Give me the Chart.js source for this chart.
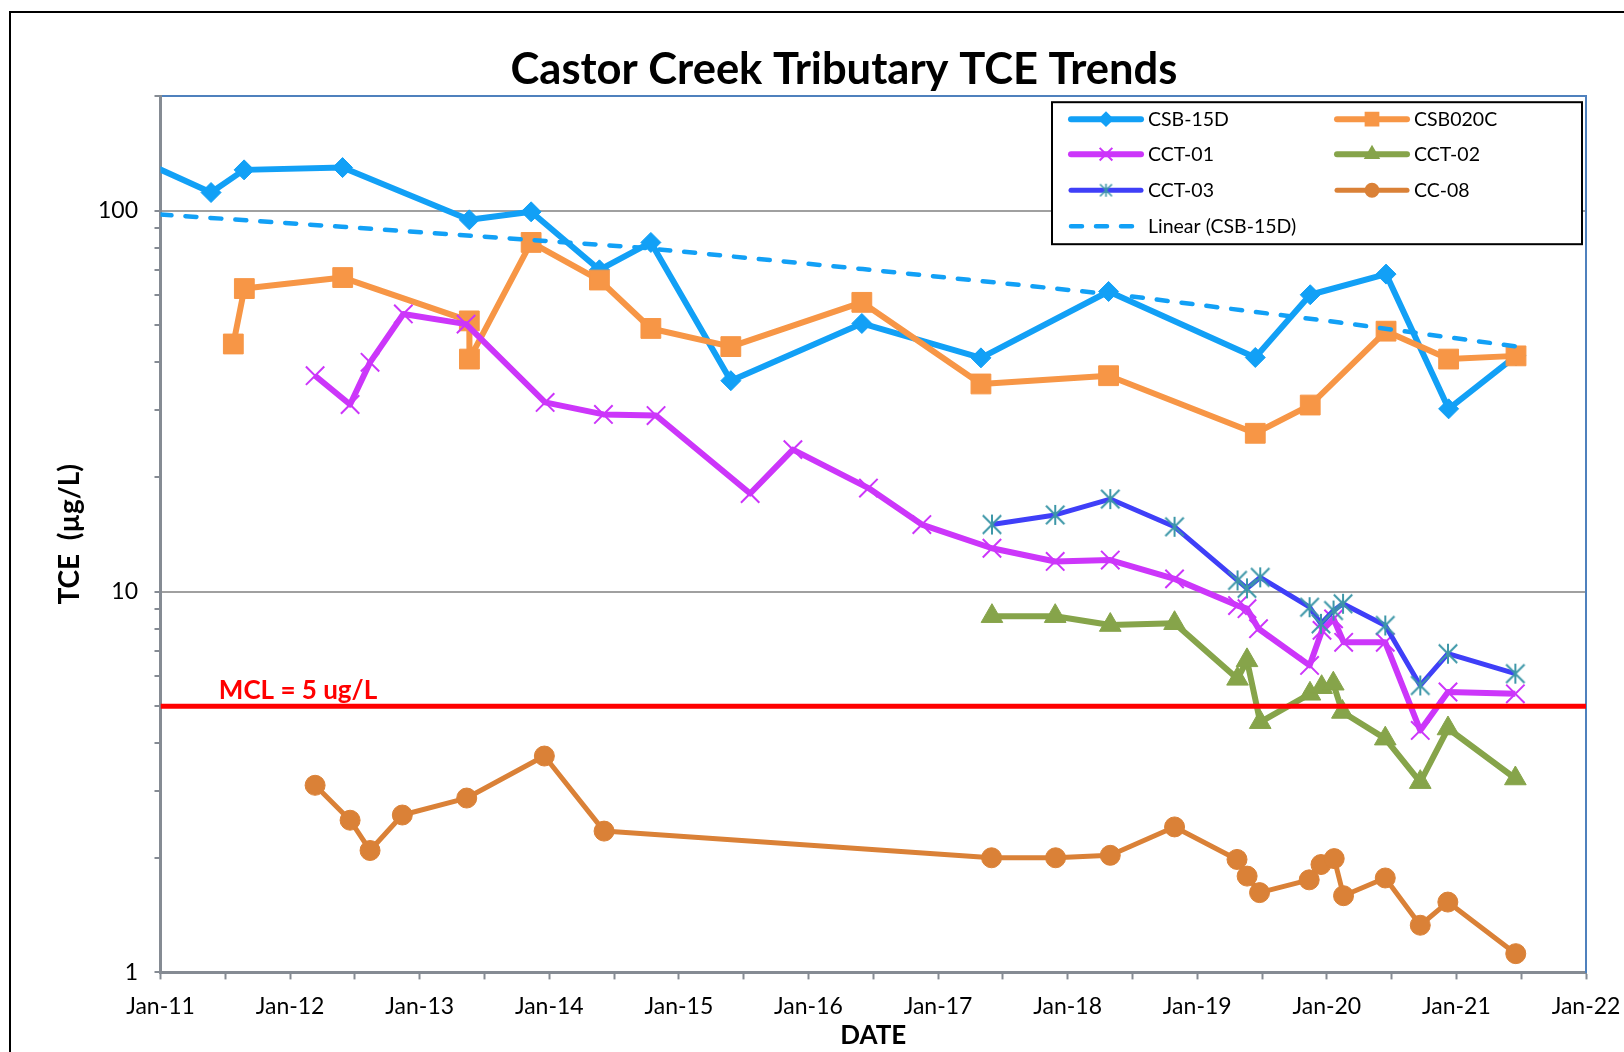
<!DOCTYPE html>
<html>
<head>
<meta charset="utf-8">
<title>Castor Creek Tributary TCE Trends</title>
<script src="https://cdn.jsdelivr.net/npm/chart.js@4.4.1/dist/chart.umd.min.js"></script>
<style>
  html, body { margin: 0; padding: 0; background: #fff; overflow: hidden; }
  #frame { position: absolute; left: 9px; top: 11px; width: 1666px; height: 1100px; border: 2px solid #000; }
</style>
</head>
<body>
<div id="frame"><canvas id="canvas" width="1666" height="1039"></canvas></div>
<script>
// sample dates are decimal years, values in ug/L
var csb15dDates = [2010.9, 2011.39, 2011.645, 2012.405, 2013.383, 2013.86, 2014.387, 2014.784, 2015.401, 2016.412, 2017.331, 2018.316, 2019.448, 2019.872, 2020.457, 2020.94, 2021.46];
var csb15dValues = [133, 111.7, 128.1, 129.9, 94.7, 99.4, 70.0, 82.6, 35.8, 50.6, 41.1, 61.4, 41.2, 60.2, 68.2, 30.2, 41.6];

var csb020cDates = [2011.562, 2011.647, 2012.406, 2013.383, 2013.384, 2013.86, 2014.387, 2014.784, 2015.401, 2016.412, 2017.331, 2018.316, 2019.448, 2019.872, 2020.457, 2020.94, 2021.46];
var csb020cValues = [44.7, 62.5, 66.8, 51.4, 40.8, 82.6, 65.8, 49.1, 44.0, 57.5, 35.1, 36.9, 26.05, 30.9, 48.3, 40.8, 41.6];

var cct01Dates = [2012.193, 2012.463, 2012.617, 2012.874, 2013.358, 2013.968, 2014.418, 2014.824, 2015.55, 2015.88, 2016.463, 2016.875, 2017.416, 2017.904, 2018.329, 2018.825, 2019.311, 2019.384, 2019.473, 2019.867, 2019.963, 2020.052, 2020.13, 2020.451, 2020.721, 2020.935, 2021.455];
var cct01Values = [36.9, 31.0, 40.0, 53.6, 50.4, 31.4, 29.2, 29.0, 18.1, 23.6, 18.7, 15.0, 13.0, 12.0, 12.1, 10.8, 9.19, 9.02, 7.99, 6.40, 7.91, 8.48, 7.36, 7.36, 4.32, 5.45, 5.39];

var cct02Dates = [2017.416, 2017.904, 2018.329, 2018.825, 2019.311, 2019.384, 2019.486, 2019.87, 2019.96, 2020.05, 2020.12, 2020.451, 2020.721, 2020.935, 2021.455];
var cct02Values = [8.62, 8.62, 8.17, 8.26, 5.90, 6.60, 4.54, 5.39, 5.61, 5.73, 4.83, 4.11, 3.16, 4.37, 3.23];

var cct03Dates = [2017.416, 2017.904, 2018.329, 2018.825, 2019.311, 2019.384, 2019.486, 2019.867, 2019.955, 2020.052, 2020.125, 2020.451, 2020.721, 2020.935, 2021.455];
var cct03Values = [15.0, 15.9, 17.5, 14.8, 10.7, 10.2, 10.9, 9.10, 8.23, 8.92, 9.29, 8.15, 5.67, 6.87, 6.09];

var cc08Dates = [2012.193, 2012.463, 2012.617, 2012.866, 2013.363, 2013.962, 2014.423, 2017.413, 2017.907, 2018.329, 2018.825, 2019.307, 2019.385, 2019.481, 2019.864, 2019.955, 2020.057, 2020.129, 2020.451, 2020.721, 2020.934, 2021.458];
var cc08Values = [3.10, 2.51, 2.09, 2.59, 2.87, 3.70, 2.35, 2.00, 2.00, 2.03, 2.41, 1.98, 1.79, 1.62, 1.75, 1.92, 1.99, 1.59, 1.77, 1.33, 1.53, 1.12];

// Linear (CSB-15D) trendline
var trendDates = [2011.0, 2012.4, 2014.7, 2016.42, 2018.46, 2020.1, 2021.47];
var trendValues = [97.8, 90.8, 80.1, 70.3, 59.8, 50.9, 44.0];

var mclValue = 5;
var mclLabel = 'MCL = 5 ug/L';
var mclLabelYear = 2011.45;

var xTickValues = [2011, 2011.5, 2012, 2012.5, 2013, 2013.5, 2014, 2014.5, 2015, 2015.5, 2016, 2016.5, 2017, 2017.5, 2018, 2018.5, 2019, 2019.5, 2020, 2020.5, 2021, 2021.5, 2022];
var xLabelYears = [2011, 2012, 2013, 2014, 2015, 2016, 2017, 2018, 2019, 2020, 2021, 2022];
var xTickLabels = ['Jan-11', 'Jan-12', 'Jan-13', 'Jan-14', 'Jan-15', 'Jan-16', 'Jan-17', 'Jan-18', 'Jan-19', 'Jan-20', 'Jan-21', 'Jan-22'];
var yTickValues = [1, 2, 3, 4, 5, 6, 7, 8, 9, 10, 20, 30, 40, 50, 60, 70, 80, 90, 100, 200];
var yTickLabels = [1, 10, 100];

function pts(dates, values) {
  return dates.map(function(d, i) { return {x: d, y: values[i]}; });
}

// excel style asterisk marker: vertical bar plus an X
function asterisk(r, color, lw) {
  var s = Math.ceil(2 * r + lw + 2);
  var c = document.createElement('canvas');
  c.width = s; c.height = s;
  var g = c.getContext('2d');
  var m = s / 2, d = r * 0.92;
  g.strokeStyle = color;
  g.lineWidth = lw;
  g.beginPath();
  g.moveTo(m, m - r); g.lineTo(m, m + r);
  g.moveTo(m - d, m - d); g.lineTo(m + d, m + d);
  g.moveTo(m + d, m - d); g.lineTo(m - d, m + d);
  g.stroke();
  return c;
}

var blue = '#12A0F6', orange = '#F79646', magenta = '#CC36FA', green = '#86A44A', violet = '#3F3FF8', teal = '#3D97A8', brown = '#DA8137';
var bigStar = asterisk(10, teal, 2);
var smallStar = asterisk(6.5, teal, 1.6);

Chart.defaults.font.family = 'Lato, "Noto Sans", sans-serif';
Chart.defaults.color = '#000';

var legendItems = [
  {ds: 0, label: 'CSB-15D', style: 'rectRot', r: 6.5},
  {ds: 1, label: 'CSB020C', style: 'rect', r: 9},
  {ds: 2, label: 'CCT-01', style: 'crossRot', r: 9},
  {ds: 3, label: 'CCT-02', style: 'triangle', r: 7.5},
  {ds: 4, label: 'CCT-03', style: smallStar, r: 6},
  {ds: 5, label: 'CC-08', style: 'circle', r: 6.5},
  {ds: 7, label: 'Linear (CSB-15D)', style: null, r: 0}
];

var boxLegend = {
  id: 'boxLegend',
  afterDatasetsDraw: function(chart) {
    var ctx = chart.ctx, area = chart.chartArea;
    var w = 530, h = 142;
    var left = area.right - 4 - w, top = area.top + 6;
    var cols = [19, 285], rows = [17, 52, 88, 124];
    ctx.save();
    ctx.fillStyle = '#fff';
    ctx.fillRect(left, top, w, h);
    ctx.lineWidth = 2;
    ctx.strokeStyle = '#000';
    ctx.strokeRect(left, top, w, h);
    legendItems.forEach(function(item, i) {
      var ds = chart.data.datasets[item.ds];
      var x0 = left + cols[i % 2], y = top + rows[Math.floor(i / 2)];
      ctx.save();
      ctx.strokeStyle = ds.borderColor;
      ctx.lineWidth = ds.borderWidth;
      ctx.lineCap = 'round';
      ctx.setLineDash(ds.borderDash || []);
      ctx.beginPath();
      ctx.moveTo(x0, y);
      ctx.lineTo(x0 + 70, y);
      ctx.stroke();
      ctx.restore();
      if (item.style) {
        ctx.save();
        ctx.fillStyle = ds.pointBackgroundColor;
        ctx.strokeStyle = ds.pointBorderColor;
        Chart.helpers.drawPoint(ctx, {pointStyle: item.style, radius: item.r, rotation: 0, borderWidth: ds.pointBorderWidth}, x0 + 35, y);
        ctx.restore();
      }
      ctx.fillStyle = '#000';
      ctx.font = '19.5px Lato';
      ctx.textBaseline = 'middle';
      ctx.fillText(item.label, x0 + 77, y + 1);
    });
    ctx.restore();
  }
};

var mclText = {
  id: 'mclText',
  afterDatasetsDraw: function(chart) {
    var ctx = chart.ctx;
    ctx.save();
    ctx.fillStyle = '#FF0000';
    ctx.font = 'bold 26px Lato';
    ctx.textBaseline = 'alphabetic';
    ctx.fillText(mclLabel, chart.scales.x.getPixelForValue(mclLabelYear), chart.scales.y.getPixelForValue(mclValue) - 7);
    ctx.restore();
  }
};

var ctx = document.getElementById('canvas').getContext('2d');
var myChart = new Chart(ctx, {
  type: 'line',
  data: {
    datasets: [
      {
        label: 'CSB-15D', data: pts(csb15dDates, csb15dValues), order: 7, clip: 0,
        borderColor: blue, borderWidth: 6, pointStyle: 'rectRot', pointRadius: 10,
        pointBackgroundColor: blue, pointBorderColor: blue, pointBorderWidth: 1
      },
      {
        label: 'CSB020C', data: pts(csb020cDates, csb020cValues), order: 6,
        borderColor: orange, borderWidth: 6, pointStyle: 'rect', pointRadius: 14,
        pointBackgroundColor: orange, pointBorderColor: orange, pointBorderWidth: 1
      },
      {
        label: 'CCT-01', data: pts(cct01Dates, cct01Values), order: 5,
        borderColor: magenta, borderWidth: 6, pointStyle: 'crossRot', pointRadius: 13,
        pointBackgroundColor: magenta, pointBorderColor: magenta, pointBorderWidth: 2
      },
      {
        label: 'CCT-02', data: pts(cct02Dates, cct02Values), order: 4,
        borderColor: green, borderWidth: 6, pointStyle: 'triangle', pointRadius: 12.5,
        pointBackgroundColor: green, pointBorderColor: green, pointBorderWidth: 1
      },
      {
        label: 'CCT-03', data: pts(cct03Dates, cct03Values), order: 3,
        borderColor: violet, borderWidth: 5, pointStyle: bigStar, pointRadius: 10,
        pointBackgroundColor: teal, pointBorderColor: teal, pointBorderWidth: 2
      },
      {
        label: 'CC-08', data: pts(cc08Dates, cc08Values), order: 2,
        borderColor: brown, borderWidth: 5, pointStyle: 'circle', pointRadius: 10,
        pointBackgroundColor: brown, pointBorderColor: brown, pointBorderWidth: 1
      },
      {
        label: 'MCL', data: [{x: 2011, y: mclValue}, {x: 2022, y: mclValue}], order: 1,
        borderColor: '#FF0000', borderWidth: 5, pointRadius: 0
      },
      {
        label: 'Linear (CSB-15D)', data: pts(trendDates, trendValues), order: 0,
        borderColor: blue, borderWidth: 4.5, borderDash: [11, 14], borderCapStyle: 'round', pointRadius: 0
      }
    ]
  },
  options: {
    responsive: false,
    animation: false,
    events: [],
    elements: { line: { tension: 0, borderJoinStyle: 'round' } },
    layout: { padding: 0 },
    plugins: {
      legend: { display: false },
      tooltip: { enabled: false },
      title: {
        display: true,
        text: 'Castor Creek Tributary TCE Trends',
        font: { size: 43.5, weight: 'bold' },
        color: '#000',
        padding: { top: 31, bottom: 0 }
      }
    },
    scales: {
      x: {
        type: 'linear', position: 'bottom', min: 2011, max: 2022,
        afterBuildTicks: function(scale) {
          scale.ticks = xTickValues.map(function(v) { return {value: v}; });
        },
        afterFit: function(scale) { scale.height = 79.6; },
        ticks: {
          autoSkip: false, maxRotation: 0, padding: 13.8,
          font: { size: 23 },
          callback: function(value) {
            var i = xLabelYears.indexOf(value);
            return i >= 0 ? xTickLabels[i] : '';
          }
        },
        grid: { drawOnChartArea: false, drawTicks: true, tickLength: 7, tickColor: '#858B93', tickWidth: 2, color: 'rgba(0,0,0,0)' },
        border: { display: true, color: '#858B93', width: 3 },
        title: { display: true, text: 'DATE', font: { size: 26, weight: 'bold' }, padding: { top: 0, bottom: 0.4 } }
      },
      xTop: {
        type: 'linear', position: 'top', min: 0, max: 1, display: true,
        afterFit: function(scale) { scale.height = 0; },
        ticks: { display: false },
        grid: { display: false, drawTicks: false },
        border: { display: true, color: '#4F81BD', width: 2 }
      },
      y: {
        type: 'logarithmic', position: 'left', min: 1, max: 200,
        afterBuildTicks: function(scale) {
          scale.ticks = yTickValues.map(function(v) { return {value: v}; });
        },
        afterFit: function(scale) { scale.width = 149.5; },
        ticks: {
          padding: 16.5,
          font: { size: 23 },
          callback: function(value) {
            return yTickLabels.indexOf(value) >= 0 ? String(value) : '';
          }
        },
        grid: {
          drawTicks: true, tickLength: 6, tickColor: '#858B93', tickWidth: 2, lineWidth: 2,
          color: function(c) {
            return (c.tick && (c.tick.value === 10 || c.tick.value === 100)) ? '#A0A0A0' : 'rgba(0,0,0,0)';
          }
        },
        border: { display: true, color: '#858B93', width: 3 },
        title: { display: true, text: 'TCE  (µg/L)', font: { size: 28, weight: 'bold' }, padding: { top: 42.2, bottom: 0 } }
      },
      yRight: {
        type: 'linear', position: 'right', min: 0, max: 1, display: true,
        afterFit: function(scale) { scale.width = 91; },
        ticks: { display: false },
        grid: { display: false, drawTicks: false },
        border: { display: true, color: '#4F81BD', width: 2 }
      }
    }
  },
  plugins: [boxLegend, mclText]
});
</script>
</body>
</html>
